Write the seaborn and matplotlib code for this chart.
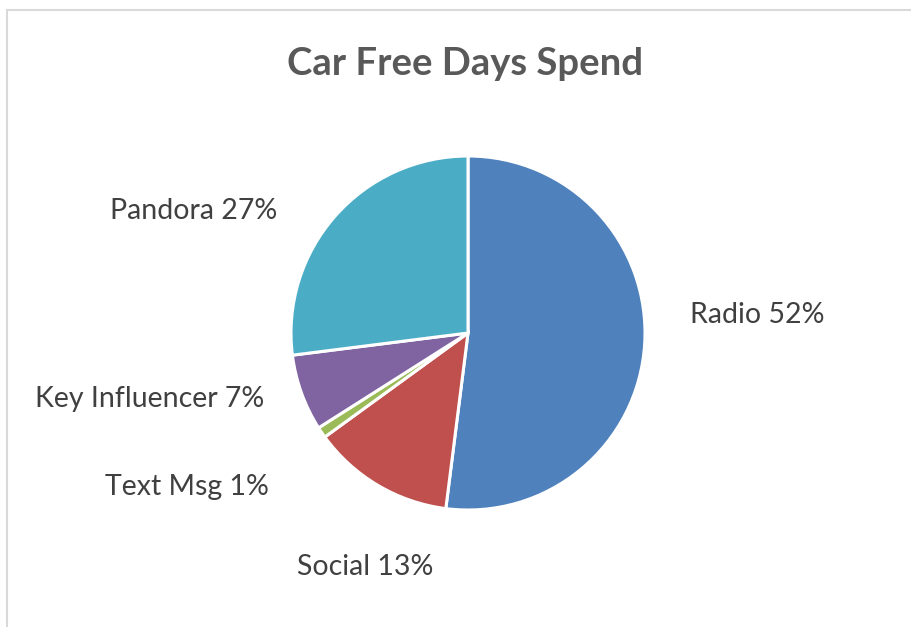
import matplotlib
matplotlib.use("Agg")
import matplotlib.pyplot as plt
from matplotlib.lines import Line2D
import seaborn as sns

# data
categories = ["Radio", "Social", "Text Msg", "Key Influencer", "Pandora"]
shares = [52, 13, 1, 7, 27]
colors = ["#4F81BD", "#C0504D", "#9BBB59", "#8064A2", "#4BACC6"]
title = "Car Free Days Spend"

# label anchor points in pixels (x, baseline y from top)
label_pos = [(757, 323), (365, 575), (187, 495), (150, 407), (194, 219)]

sns.set_theme(style="white")
plt.rcParams["font.family"] = ["Lato", "DejaVu Sans"]

W, H = 911, 627
fig = plt.figure(figsize=(W / 100, H / 100), dpi=100)
fig.patch.set_facecolor("white")

# pie axes (center 468,333 px, radius 177 px)
cx, cy, r = 468, 333, 177
ax = fig.add_axes([(cx - r) / W, (H - cy - r) / H, 2 * r / W, 2 * r / H])
ax.pie(shares, colors=colors, startangle=90, counterclock=False,
       wedgeprops=dict(edgecolor="white", linewidth=2.2))
ax.set_xlim(-1, 1)
ax.set_ylim(-1, 1)
ax.axis("off")

# data labels
for name, val, (px, py) in zip(categories, shares, label_pos):
    fig.text(px / W, 1 - py / H, f"{name} {val}%", ha="center", va="baseline",
             fontsize=20.5, color="#404040")

fig.text(465 / W, 1 - 75 / H, title, ha="center", va="baseline",
         fontsize=27.5, fontweight="bold", color="#595959")

# chart border (only top and left edges visible)
fig.add_artist(Line2D([7 / W, 1], [1 - 10 / H, 1 - 10 / H], color="#D9D9D9", lw=1.5))
fig.add_artist(Line2D([7 / W, 7 / W], [0, 1 - 10 / H], color="#D9D9D9", lw=1.5))

fig.savefig("out.png", dpi=100, facecolor="white")
